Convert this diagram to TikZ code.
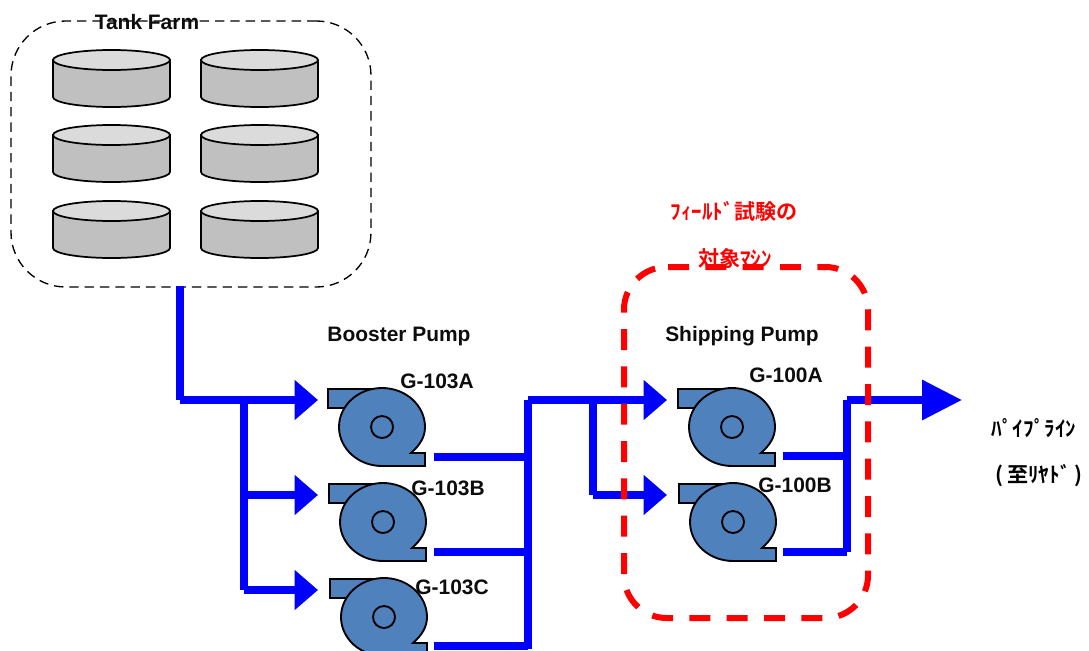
\documentclass[tikz,border=0pt]{standalone}
\usepackage{fontspec}
\setmainfont{Liberation Sans}
\newfontfamily\cjk{Noto Sans CJK JP Bold}
\usetikzlibrary{arrows.meta}
\definecolor{pumpblue}{HTML}{4F81BD}
\definecolor{tankside}{HTML}{C0C0C0}
\definecolor{tanktop}{HTML}{DBDBDB}
\tikzset{
  x=0.75pt,y=-0.75pt,
  pipe/.style={draw=blue,line width=5.7pt,line cap=butt,line join=miter},
  feed/.style={pipe,-{Triangle[length=17.5pt,width=29pt]}},
  lab/.style={font=\fontsize{15.7}{18}\selectfont\bfseries,text=black!95,inner sep=0pt},
  jp/.style={font=\cjk\fontsize{15.8}{18}\selectfont,inner sep=0pt},
  outl/.style={draw=black,line width=1.4pt,line join=miter},
  tankbody/.pic={
    \path[draw=black,line width=1.3pt,fill=tankside,rounded corners=0pt] (-58.5,-47) -- (-58.5,-10)
      arc[x radius=58.5,y radius=10,start angle=180,end angle=0] -- (58.5,-47) -- cycle;
    \path[draw=black,line width=1.3pt,fill=tanktop] (0,-47) ellipse[x radius=58.5,y radius=10];
  },
  pumpbody/.pic={
    \path[outl,fill=pumpblue] (-54,-38) -- (0,-38) -- (0,-19) -- (-54,-19) -- cycle;
    \path[outl,fill=pumpblue] (43,26) -- (43,39) -- (0,39)
      arc[x radius=43,y radius=39,start angle=90,end angle=270]
      arc[x radius=43,y radius=39,start angle=-90,end angle=0]
      .. controls (43,10) and (38,18) .. (29,26) -- cycle;
    \path[outl] (0,0) circle[radius=11];
  }
}
\begin{document}
\begin{tikzpicture}
\useasboundingbox (0,0) rectangle (1089,650);
% tank farm
\node[draw=black,dash pattern=on 7pt off 4.5pt,line width=1pt,rounded corners=41pt,minimum width=270pt,minimum height=199.5pt,inner sep=0pt] (farm) at (191,154) {};
\foreach \n/\px/\py in {t1/111.5/107,t2/259.5/107,t3/111.5/182,t4/259.5/182,t5/111.5/258,t6/259.5/258}{
  \path (\px,\py) pic {tankbody};
  \coordinate (\n) at (\px,\py);
}
\node[lab] (farmlab) at (147,22) {Tank Farm};
% junctions
\coordinate (fo) at (180,286);
\coordinate (f1) at (180,400);
\coordinate (f2) at (244,400);
\coordinate (a1) at (318,400);
\coordinate (b0) at (244,495);
\coordinate (b1) at (318,495);
\coordinate (c0) at (244,590);
\coordinate (c1) at (318,590);
\coordinate (m0) at (528,400);
\coordinate (m1) at (528,649);
\coordinate (m2) at (593,400);
\coordinate (m3) at (593,495);
\coordinate (d1) at (667,400);
\coordinate (e1) at (667,495);
\coordinate (o0) at (847,400);
\coordinate (o1) at (847,552);
\coordinate (o2) at (962,400);
% pipes
\draw[pipe] (fo) -- (f1);
\draw[pipe] (f1) -- (f2);
\draw[pipe] (f2) -- (c0);
\draw[feed] (f2) -- (a1);
\draw[feed] (b0) -- (b1);
\draw[feed] (c0) -- (c1);
\draw[pipe] (m1) -- (m0);
\draw[pipe] (m0) -- (m2);
\draw[feed] (m2) -- (d1);
\draw[pipe] (m2) -- (m3);
\draw[feed] (m3) -- (e1);
\draw[pipe] (o1) -- (o0);
\draw[pipe,-{Triangle[length=30pt,width=29pt]}] (o0) -- (o2);
% pumps
\foreach \n/\px/\py in {pa/382/427,pb/383/522,pc/384/617,pd/732/427,pe/733/522}{
  \path (\px,\py) pic {pumpbody};
  \coordinate (\n) at (\px,\py);
}
\coordinate (ao) at (434,457);
\coordinate (bo) at (434,552);
\coordinate (co) at (434,646);
\coordinate (do) at (783,456);
\coordinate (eo) at (783,552);
\draw[pipe] (ao) -- (ao -| m0);
\draw[pipe] (bo) -- (bo -| m0);
\draw[pipe] (co) -- (co -| m0);
\draw[pipe] (do) -- (do -| o0);
\draw[pipe] (eo) -- (eo -| o0);
% field test box
\draw[draw=red,line width=4.5pt,dash pattern=on 15.75pt off 12.25pt,rounded corners=32pt]
  (668,267) -- (868,267) -- (868,618) -- (624,618) -- (624,267) -- (668,267);
% labels
\node[lab] (bp) at (399,336) {Booster Pump};
\node[lab] (sp) at (742,336) {Shipping Pump};
\node[lab] (ga) at (437,381) {G-103A};
\node[lab] (gb) at (448,488) {G-103B};
\node[lab] (gc) at (452,587) {G-103C};
\node[lab] (gd) at (786,375) {G-100A};
\node[lab] (ge) at (795,485) {G-100B};
\node[jp,text=red] (f1t) at (734,211) {ﾌｨｰﾙﾄﾞ試験の};
\node[jp,text=red] (f2t) at (735,258) {対象ﾏｼﾝ};
\node[jp] (p1t) at (1034,428) {ﾊﾟｲﾌﾟﾗｲﾝ};
\node[jp] (p2t) at (1039,476) {(\hspace{3pt}至ﾘﾔﾄﾞ\hspace{3pt})};
\end{tikzpicture}
\end{document}
